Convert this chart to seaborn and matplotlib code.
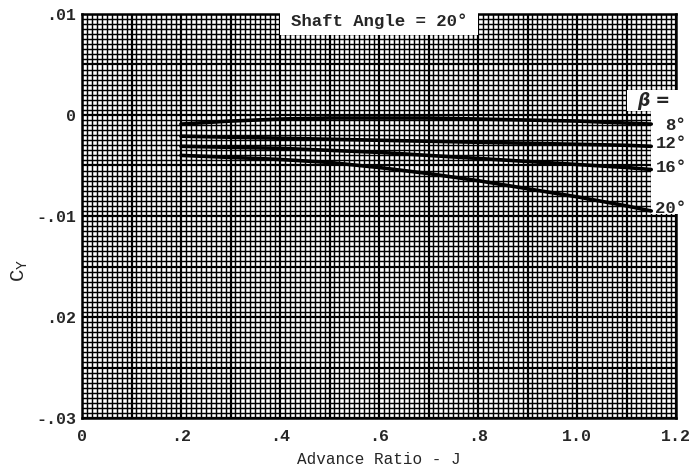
import matplotlib.pyplot as plt
import numpy as np
import pandas as pd
import seaborn as sns
from matplotlib.patches import Rectangle
from matplotlib.ticker import MultipleLocator

# Advance ratio stations
advance_ratio = [0.2, 0.3, 0.4, 0.5, 0.6, 0.7, 0.8, 0.9, 1.0, 1.1, 1.15]

# Side force coefficient C_Y for each beta
cy_beta_8 = [-0.0009, -0.0006, -0.0004, -0.0003, -0.0003, -0.0003,
             -0.0004, -0.0005, -0.0006, -0.0008, -0.0009]
cy_beta_12 = [-0.0021, -0.0022, -0.0023, -0.0024, -0.0025, -0.0026,
              -0.0027, -0.0028, -0.0029, -0.0030, -0.0031]
cy_beta_16 = [-0.0031, -0.0032, -0.0033, -0.0035, -0.0037, -0.0040,
              -0.0043, -0.0046, -0.0049, -0.0052, -0.0054]
cy_beta_20 = [-0.0040, -0.0042, -0.0044, -0.0047, -0.0052, -0.0058,
              -0.0065, -0.0073, -0.0081, -0.0090, -0.0095]

beta_labels = ["8°", "12°", "16°", "20°"]
x_tick_labels = ["0", "", ".2", "", ".4", "", ".6", "", ".8", "", "1.0", "", "1.2"]
y_tick_labels = ["-.03", "", ".02", "", "-.01", "", "0", "", ".01"]

frames = []
for name, vals in zip(beta_labels, [cy_beta_8, cy_beta_12, cy_beta_16, cy_beta_20]):
    frames.append(pd.DataFrame({"J": advance_ratio, "CY": vals, "beta": name}))
df = pd.concat(frames, ignore_index=True)

sns.set_theme(style="white")
plt.rcParams["font.family"] = ["Liberation Mono", "DejaVu Sans Mono"]
plt.rcParams["mathtext.fontset"] = "custom"
plt.rcParams["mathtext.rm"] = "Liberation Mono"

fig = plt.figure(figsize=(6.92, 4.72), dpi=100)
ax = fig.add_axes([82 / 692, 1 - 418 / 472, 594 / 692, 404 / 472])

# graph paper
ax.set_axisbelow(True)
ax.xaxis.set_major_locator(MultipleLocator(0.1))
ax.xaxis.set_minor_locator(MultipleLocator(0.01))
ax.yaxis.set_major_locator(MultipleLocator(0.005))
ax.yaxis.set_minor_locator(MultipleLocator(0.0005))
ax.grid(which="minor", color="black", linewidth=1.05)
ax.grid(which="major", color="black", linewidth=1.6)

sns.lineplot(data=df, x="J", y="CY", hue="beta", palette=["black"] * 4,
             linewidth=2.6, legend=False, ax=ax, zorder=4)

ax.set_xlim(0, 1.2)
ax.set_ylim(-0.03, 0.01)
ax.set_xticks(np.arange(0, 1.21, 0.1))
ax.set_xticklabels(x_tick_labels)
ax.set_yticks(np.arange(-0.03, 0.0101, 0.005))
ax.set_yticklabels(y_tick_labels)
ax.tick_params(which="both", length=0, labelsize=12)
ax.tick_params(axis="x", pad=8)
ax.tick_params(axis="y", pad=4)
for lab in ax.get_xticklabels() + ax.get_yticklabels():
    lab.set_fontweight("bold")

for s in ax.spines.values():
    s.set_color("black")
    s.set_linewidth(1.8)

ax.set_xlabel("Advance Ratio - J", fontsize=11.5, labelpad=6)
ax.set_ylabel(r"C$_\mathrm{Y}$", fontsize=15, rotation=90)
ax.yaxis.set_label_coords(-0.087, 0.366)

# white label boxes cut into the grid
ax.add_patch(Rectangle((0.4, 0.0079), 0.4, 0.004, facecolor="white",
                       edgecolor="none", zorder=3, clip_on=False))
ax.add_patch(Rectangle((1.10, 0.0004), 0.12, 0.0021, facecolor="white",
                       edgecolor="none", zorder=3, clip_on=False))
ax.add_patch(Rectangle((1.15, -0.0098), 0.07, 0.0102, facecolor="white",
                       edgecolor="none", zorder=3, clip_on=False))

ax.text(0.6, 0.0093, "Shaft Angle = 20°", ha="center", va="center",
        fontsize=12.5, fontweight="bold", zorder=5)
ax.text(1.155, 0.0014, "β =", ha="center", va="center", fontsize=12.5,
        fontweight="bold", zorder=5, family=["DejaVu Sans", "Liberation Mono"],
        fontstyle="italic")

label_y = [-0.0010, -0.0028, -0.0052, -0.0093]
label_x = [1.198, 1.19, 1.19, 1.19]
for lx, ly, txt in zip(label_x, label_y, beta_labels):
    ax.text(lx, ly, txt, ha="center", va="center", fontsize=12.5,
            fontweight="bold", zorder=5, clip_on=False)

fig.savefig("out.png", dpi=100, facecolor="white")
